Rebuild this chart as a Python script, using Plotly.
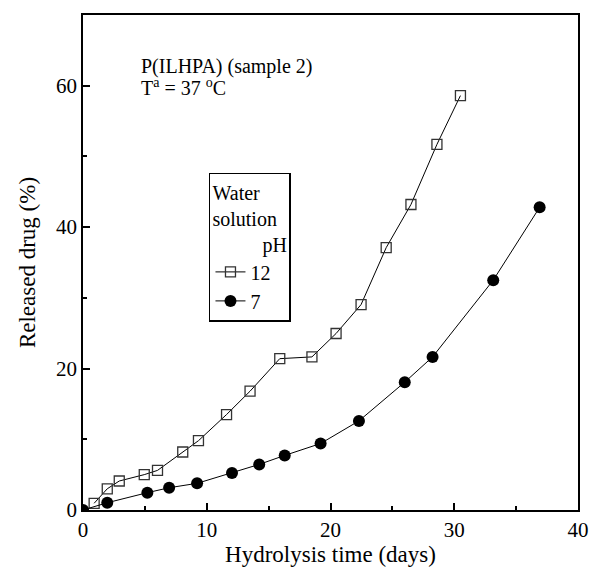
import plotly.graph_objects as go

# pH 12 (open squares)
x_ph12 = [0.9, 1.96, 2.93, 4.95, 6.02, 8.06, 9.33, 11.6, 13.5, 15.9, 18.5, 20.45, 22.47, 24.5, 26.5, 28.6, 30.5]
y_ph12 = [0.95, 3.0, 4.1, 5.0, 5.6, 8.2, 9.8, 13.5, 16.8, 21.4, 21.65, 24.96, 29.05, 37.1, 43.2, 51.7, 58.6]

# pH 7 (filled circles)
x_ph7 = [0.0, 1.96, 5.2, 6.96, 9.22, 12.04, 14.24, 16.3, 19.2, 22.3, 26.0, 28.25, 33.15, 36.9]
y_ph7 = [0.0, 1.03, 2.45, 3.15, 3.77, 5.23, 6.45, 7.72, 9.4, 12.6, 18.08, 21.65, 32.5, 42.8]

x_ticks = [0, 10, 20, 30, 40]
y_ticks = [0, 20, 40, 60]

FONT = "Liberation Serif"

fig = go.Figure()
fig.add_trace(go.Scatter(
    x=x_ph12, y=y_ph12, mode="lines+markers", name="12",
    line=dict(color="black", width=1),
    marker=dict(symbol="square-open", size=10, color="#333333", line=dict(width=1.3)),
))
fig.add_trace(go.Scatter(
    x=x_ph7, y=y_ph7, mode="lines+markers", name="7",
    line=dict(color="black", width=1),
    marker=dict(symbol="circle", size=12, color="black"),
))

axis_common = dict(
    showgrid=False, zeroline=False, showline=True, mirror=True, automargin=False,
    linecolor="black", linewidth=1.5, ticks="inside", ticklen=7, tickwidth=1.5,
    tickcolor="black", tickfont=dict(family=FONT, size=21, color="black"),
)

fig.update_xaxes(
    range=[0, 40], tickvals=x_ticks,
    title=dict(text="Hydrolysis time (days)", font=dict(family=FONT, size=23, color="black"), standoff=1),
    minor=dict(dtick=5, ticks="inside", ticklen=4, tickwidth=1.5, tickcolor="black"),
    **axis_common,
)
fig.update_yaxes(
    range=[0, 70], tickvals=y_ticks,
    title=dict(text="Released drug (%)", font=dict(family=FONT, size=23, color="black"), standoff=14),
    minor=dict(dtick=10, ticks="inside", ticklen=4, tickwidth=1.5, tickcolor="black"),
    **axis_common,
)

fig.add_annotation(x=4.6, y=61.0, xref="x", yref="y", text="P(ILHPA) (sample 2)",
                   showarrow=False, xanchor="left", yanchor="bottom", borderpad=0,
                   font=dict(family=FONT, size=20, color="black"))
fig.add_annotation(x=4.6, y=61.6, xref="x", yref="y", text="T<sup>a</sup> = 37 <sup>o</sup>C",
                   showarrow=False, xanchor="left", yanchor="top", borderpad=0,
                   font=dict(family=FONT, size=20, color="black"))

fig.update_layout(
    width=590, height=573,
    margin=dict(l=83, r=12, t=15, b=63),
    paper_bgcolor="white", plot_bgcolor="white",
    showlegend=True,
    legend=dict(
        x=0.2545, y=0.681, xanchor="left", yanchor="top",
        bordercolor="black", borderwidth=1.5, bgcolor="white",
        font=dict(family=FONT, size=20, color="black"),
        title=dict(text="Water<br>solution<br>          pH", font=dict(family=FONT, size=20, color="black")),
        itemwidth=30, tracegroupgap=0,
    ),
)

fig.write_html(
    "out.html",
    config={"displayModeBar": False},
    post_script="document.body.style.margin='0';document.body.style.overflow='hidden';",
)
